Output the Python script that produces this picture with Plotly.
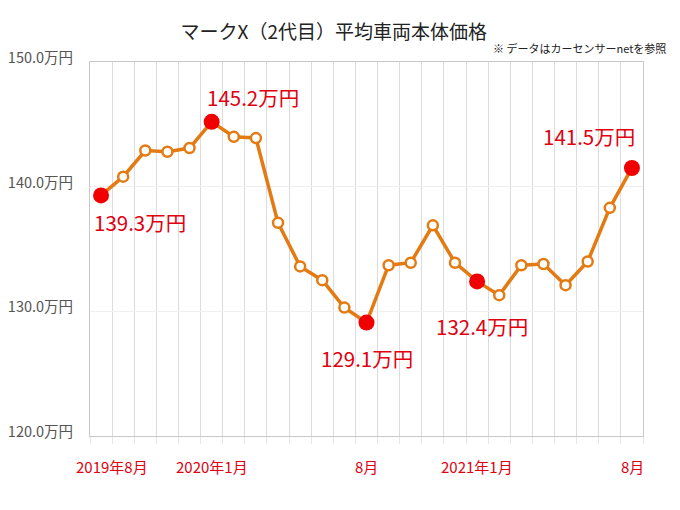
import plotly.graph_objects as go

# ---- data ----
months = ["2019-08", "2019-09", "2019-10", "2019-11", "2019-12",
          "2020-01", "2020-02", "2020-03", "2020-04", "2020-05", "2020-06", "2020-07", "2020-08",
          "2020-09", "2020-10", "2020-11", "2020-12",
          "2021-01", "2021-02", "2021-03", "2021-04", "2021-05", "2021-06", "2021-07", "2021-08"]
prices = [139.3, 140.8, 142.9, 142.8, 143.1,
          145.2, 144.0, 143.9, 137.1, 133.6, 132.5, 130.3, 129.1,
          133.7, 133.9, 136.9, 133.9,
          132.4, 131.3, 133.7, 133.8, 132.1, 134.0, 138.3, 141.5]
highlight_idx = [0, 5, 12, 17, 24]
highlight_text = ["139.3万円", "145.2万円", "129.1万円", "132.4万円", "141.5万円"]
tick_idx = [0, 5, 12, 17, 24]
tick_text = ["2019年8月", "2020年1月", "8月", "2021年1月", "8月"]
y_ticks = [120, 130, 140, 150]
y_tick_text = [f"{v:.1f}万円" for v in y_ticks]

# ---- styling ----
FONT = "Noto Sans CJK JP, Noto Sans, sans-serif"
ORANGE = "#E47A12"
RED = "#F00000"
LABEL_RED = "#E0000F"
label_shift = [(39, -27), (41, 25), (0, -35), (5, -45), (-43, 32)]
tick_shift = [11, 0, 0, 0, 1]

x = list(range(len(months)))

fig = go.Figure()
fig.add_trace(go.Scatter(
    x=x, y=prices, mode="lines+markers",
    line=dict(color=ORANGE, width=3.5),
    marker=dict(size=10, color="white", line=dict(color=ORANGE, width=2.5)),
    hoverinfo="skip", showlegend=False,
))
fig.add_trace(go.Scatter(
    x=[x[i] for i in highlight_idx], y=[prices[i] for i in highlight_idx],
    mode="markers",
    marker=dict(size=16, color=RED, line=dict(width=0)),
    hoverinfo="skip", showlegend=False,
))

annotations = []
for k, i in enumerate(highlight_idx):
    dx, dy = label_shift[k]
    annotations.append(dict(
        x=x[i], y=prices[i], xref="x", yref="y", text=highlight_text[k],
        showarrow=False, xshift=dx, yshift=dy,
        font=dict(family=FONT, size=20.5, color=LABEL_RED),
    ))
for k, i in enumerate(tick_idx):
    annotations.append(dict(
        x=x[i], y=0, xref="x", yref="paper", text=tick_text[k],
        showarrow=False, yanchor="top", yshift=-18, xshift=tick_shift[k],
        font=dict(family=FONT, size=15, color=LABEL_RED),
    ))
annotations.append(dict(
    x=1.045, y=1.038, xref="paper", yref="paper", xanchor="right", yanchor="middle",
    text="※ データはカーセンサーnetを参照", showarrow=False,
    font=dict(family=FONT, size=11, color="#222"),
))

fig.update_layout(
    width=680, height=510,
    margin=dict(l=82, r=45, t=54, b=82, autoexpand=False),
    paper_bgcolor="white", plot_bgcolor="white",
    title=dict(text="マークX（2代目）平均車両本体価格", x=0.479, xanchor="center",
               y=1 - 24 / 510, yanchor="middle",
               font=dict(family=FONT, size=19, color="#222")),
    font=dict(family=FONT),
    annotations=annotations,
    xaxis=dict(
        range=[-0.5, len(months) - 0.5], tick0=0.5, dtick=1,
        showticklabels=False, showgrid=True, gridcolor="#dcdcdc", gridwidth=1,
        ticks="outside", ticklen=7, tickcolor="#e6e6e6",
        showline=True, linecolor="#c8c8c8", linewidth=1, mirror=True,
        zeroline=False, automargin=False,
    ),
    yaxis=dict(
        range=[120, 150], tickvals=y_ticks, ticktext=y_tick_text,
        tickfont=dict(family=FONT, size=14.5, color="#555"),
        showgrid=True, gridcolor="#efefef", gridwidth=1,
        showline=True, linecolor="#c8c8c8", linewidth=1, mirror=True,
        zeroline=False, ticks="", ticklabelstandoff=13, ticklabelshift=-4,
        automargin=False,
    ),
)

fig.write_html("out.html")
